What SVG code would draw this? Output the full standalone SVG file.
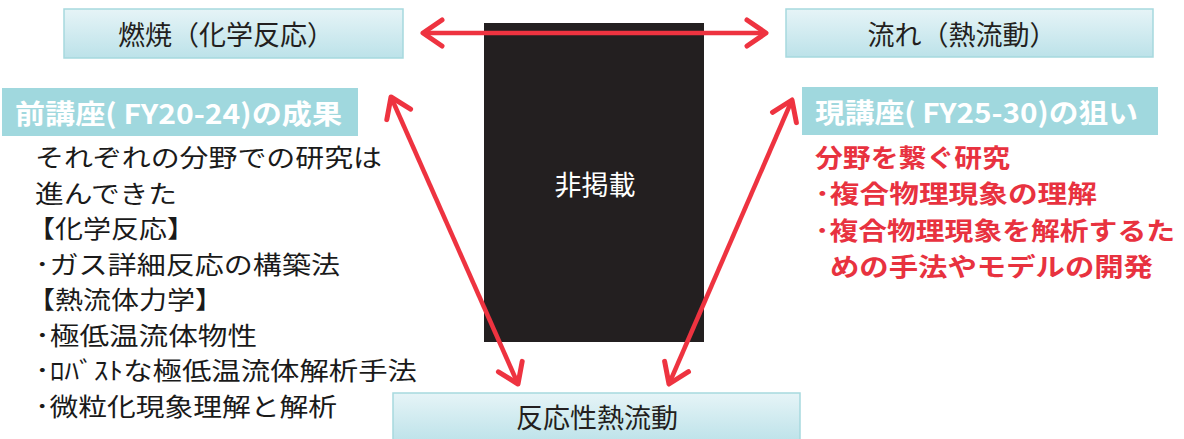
<svg xmlns="http://www.w3.org/2000/svg" width="1184" height="439" viewBox="0 0 1184 439">
<style>
.box{fill:url(#g);stroke:#A6D9DE;stroke-width:1.5}
.hdr{fill:#A0D8DE}
.bt{font-family:"Noto Sans CJK JP","Noto Sans",sans-serif;font-size:27px;fill:#231F20;text-anchor:middle}
.ht{font-family:"Noto Sans CJK JP","Noto Sans",sans-serif;font-size:27px;font-weight:bold;fill:#fff}
.lt{font-family:"Noto Sans CJK JP","Noto Sans",sans-serif;font-size:24.5px;fill:#1a1a1a}
.rt{font-family:"Noto Sans CJK JP","Noto Sans",sans-serif;font-size:25px;font-weight:bold;fill:#E8323F}
.ar{stroke:#EE3340;stroke-width:4.5;fill:none;marker-start:url(#ah);marker-end:url(#ah)}
</style>
<defs>
<linearGradient id="g" x1="0" y1="0" x2="0" y2="1">
<stop offset="0" stop-color="#E6F4F7"/>
<stop offset="1" stop-color="#BCE2E9"/>
</linearGradient>
<marker id="ah" markerUnits="userSpaceOnUse" markerWidth="40" markerHeight="40" viewBox="-30 -20 40 40" refX="0" refY="0" orient="auto-start-reverse">
<path d="M -19 -13 L 0 0 L -19 13" fill="none" stroke="#EE3340" stroke-width="5" stroke-linejoin="round" stroke-linecap="round"/>
</marker>
</defs>
<rect width="1184" height="439" fill="#fff"/>
<g id="node-combustion">
<rect class="box" x="64" y="9" width="339" height="49"/>
<text class="bt" x="226" y="45">燃焼（化学反応）</text>
</g>
<g id="node-flow">
<rect class="box" x="786" y="9" width="367" height="48"/>
<text class="bt" x="962" y="45">流れ（熱流動）</text>
</g>
<g id="node-reactive">
<rect class="box" x="393" y="393" width="407" height="50"/>
<text class="bt" x="597" y="428" font-size="29">反応性熱流動</text>
</g>
<g id="node-hidden">
<rect x="484" y="23" width="220" height="319" fill="#231F20"/>
<text class="bt" x="595" y="195" style="fill:#fff">非掲載</text>
</g>
<g id="node-prev">
<rect class="hdr" x="2" y="88" width="356" height="48"/>
<text class="ht" x="15" y="124" textLength="327" lengthAdjust="spacingAndGlyphs">前講座( FY20-24)の成果</text>
<text class="lt" x="35" y="167" textLength="347" lengthAdjust="spacingAndGlyphs">それぞれの分野での研究は</text>
<text class="lt" x="35" y="202.5" textLength="142" lengthAdjust="spacingAndGlyphs">進んできた</text>
<text class="lt" x="27" y="238" textLength="168" lengthAdjust="spacingAndGlyphs">【化学反応】</text>
<text class="lt" x="35" y="273.5" textLength="305" lengthAdjust="spacingAndGlyphs">･ガス詳細反応の構築法</text>
<text class="lt" x="27" y="309" textLength="196" lengthAdjust="spacingAndGlyphs">【熱流体力学】</text>
<text class="lt" x="35" y="344.5" textLength="222" lengthAdjust="spacingAndGlyphs">･極低温流体物性</text>
<text class="lt" x="35" y="380" textLength="382" lengthAdjust="spacingAndGlyphs">･ﾛﾊﾞｽﾄな極低温流体解析手法</text>
<text class="lt" x="35" y="415.5" textLength="302" lengthAdjust="spacingAndGlyphs">･微粒化現象理解と解析</text>
</g>
<g id="node-current">
<rect class="hdr" x="802" y="87" width="356" height="48"/>
<text class="ht" x="815" y="123" textLength="323" lengthAdjust="spacingAndGlyphs">現講座( FY25-30)の狙い</text>
<text class="rt" x="815" y="167" textLength="195" lengthAdjust="spacingAndGlyphs">分野を繋ぐ研究</text>
<text class="rt" x="815" y="203.3" textLength="282" lengthAdjust="spacingAndGlyphs">･複合物理現象の理解</text>
<text class="rt" x="815" y="239.6" textLength="360" lengthAdjust="spacingAndGlyphs">･複合物理現象を解析するた</text>
<text class="rt" x="830" y="275.9" textLength="323" lengthAdjust="spacingAndGlyphs">めの手法やモデルの開発</text>
</g>
<g id="connectors">
<line class="ar" x1="423" y1="33" x2="766" y2="33"/>
<line class="ar" x1="391" y1="97" x2="518" y2="384"/>
<line class="ar" x1="792" y1="100" x2="669" y2="384"/>
</g>
</svg>
